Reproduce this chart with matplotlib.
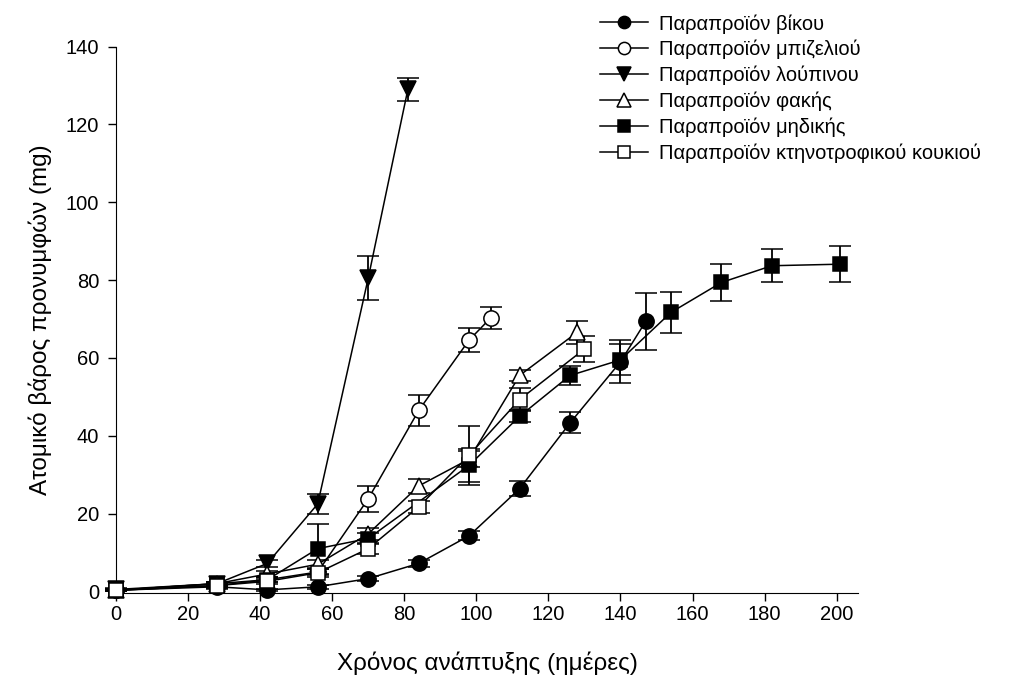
import numpy as np
import matplotlib.pyplot as plt
from matplotlib.lines import Line2D

plt.rcParams['font.family'] = ['Liberation Sans', 'DejaVu Sans']

# Παραπροϊόν βίκου
x_vik = [0, 28, 42, 56, 70, 84, 98, 112, 126, 140, 147]
y_vik = [0.3, 1.2, 0.4, 1.2, 3.3, 7.2, 14.3, 26.4, 43.3, 59.0, 69.4]
e_vik = [0.3, 0.5, 0.3, 0.5, 0.6, 0.8, 1.2, 2.0, 2.7, 5.5, 7.4]

# Παραπροϊόν μπιζελιού
x_piz = [0, 28, 42, 56, 70, 84, 98, 104]
y_piz = [0.3, 2.0, 3.0, 5.0, 23.8, 46.5, 64.6, 70.3]
e_piz = [0.3, 0.5, 0.6, 0.8, 3.4, 4.1, 3.0, 2.8]

# Παραπροϊόν λούπινου
x_lou = [0, 28, 42, 56, 70, 81]
y_lou = [0.5, 2.0, 7.2, 22.5, 80.5, 129.0]
e_lou = [0.3, 0.5, 0.8, 2.5, 5.7, 3.0]

# Παραπροϊόν φακής
x_fak = [0, 28, 42, 56, 70, 84, 98, 112, 128]
y_fak = [0.3, 2.0, 4.5, 7.0, 14.8, 27.1, 34.0, 55.5, 66.6]
e_fak = [0.3, 0.5, 0.7, 1.0, 1.5, 1.7, 2.0, 1.5, 3.0]

# Παραπροϊόν μηδικής
x_mid = [0, 28, 42, 56, 70, 98, 112, 126, 140, 154, 168, 182, 201]
y_mid = [0.3, 1.5, 3.0, 11.0, 13.6, 32.4, 45.0, 55.5, 59.5, 71.7, 79.4, 83.7, 84.1]
e_mid = [0.3, 0.5, 0.6, 6.4, 1.5, 4.3, 1.5, 2.4, 4.0, 5.3, 4.8, 4.2, 4.6]

# Παραπροϊόν κτηνοτροφικού κουκιού
x_kou = [0, 28, 42, 56, 70, 84, 98, 112, 130]
y_kou = [0.3, 1.5, 2.6, 4.8, 11.0, 21.7, 35.0, 49.3, 62.3]
e_kou = [0.3, 0.5, 0.6, 1.0, 1.5, 1.5, 7.6, 3.0, 3.4]

labels = ['Παραπροϊόν βίκου', 'Παραπροϊόν μπιζελιού', 'Παραπροϊόν λούπινου',
          'Παραπροϊόν φακής', 'Παραπροϊόν μηδικής',
          'Παραπροϊόν κτηνοτροφικού κουκιού']

series = [(x_vik, y_vik, e_vik, 'o', 'black', 11),
          (x_piz, y_piz, e_piz, 'o', 'white', 11),
          (x_lou, y_lou, e_lou, 'v', 'black', 12),
          (x_fak, y_fak, e_fak, '^', 'white', 12),
          (x_mid, y_mid, e_mid, 's', 'black', 10),
          (x_kou, y_kou, e_kou, 's', 'white', 10)]

fig = plt.figure(figsize=(10.17, 6.86), dpi=100)
ax = fig.add_axes([0.114, 0.135, 0.730, 0.797])

handles = []
for (x, y, e, m, fc, ms), lab in zip(series, labels):
    ax.errorbar(x, y, yerr=e, fmt='-', marker=m, mfc=fc, mec='black',
                ms=ms, color='black', lw=1.1, ecolor='black', elinewidth=1.3,
                capsize=8, capthick=1.3, mew=1.1, clip_on=False, zorder=3)
    handles.append(Line2D([], [], color='black', lw=1.1, marker=m, mfc=fc,
                          mec='black', ms=ms * 0.8, mew=1.1))

ax.set_xlim(0, 206)
ax.set_ylim(-0.5, 140)
ax.set_xticks(np.arange(0, 201, 20))
ax.set_yticks(np.arange(0, 141, 20))
ax.spines['top'].set_visible(False)
ax.spines['right'].set_visible(False)
ax.spines['left'].set_bounds(0, 140)
ax.tick_params(direction='out', length=6, width=1, labelsize=14.5)
ax.tick_params(axis='x', pad=2)
ax.tick_params(axis='y', pad=6)

ax.set_xlabel('Χρόνος ανάπτυξης (ημέρες)', fontsize=17.5, labelpad=20)
ax.set_ylabel('Ατομικό βάρος προνυμφών (mg)', fontsize=17.5, labelpad=10)

fig.legend(handles=handles, labels=labels, loc='upper left',
           bbox_to_anchor=(0.572, 1.006), frameon=False, fontsize=14.5,
           handlelength=2.4, labelspacing=0.32, handletextpad=0.55)

fig.savefig('out.png', dpi=100)
